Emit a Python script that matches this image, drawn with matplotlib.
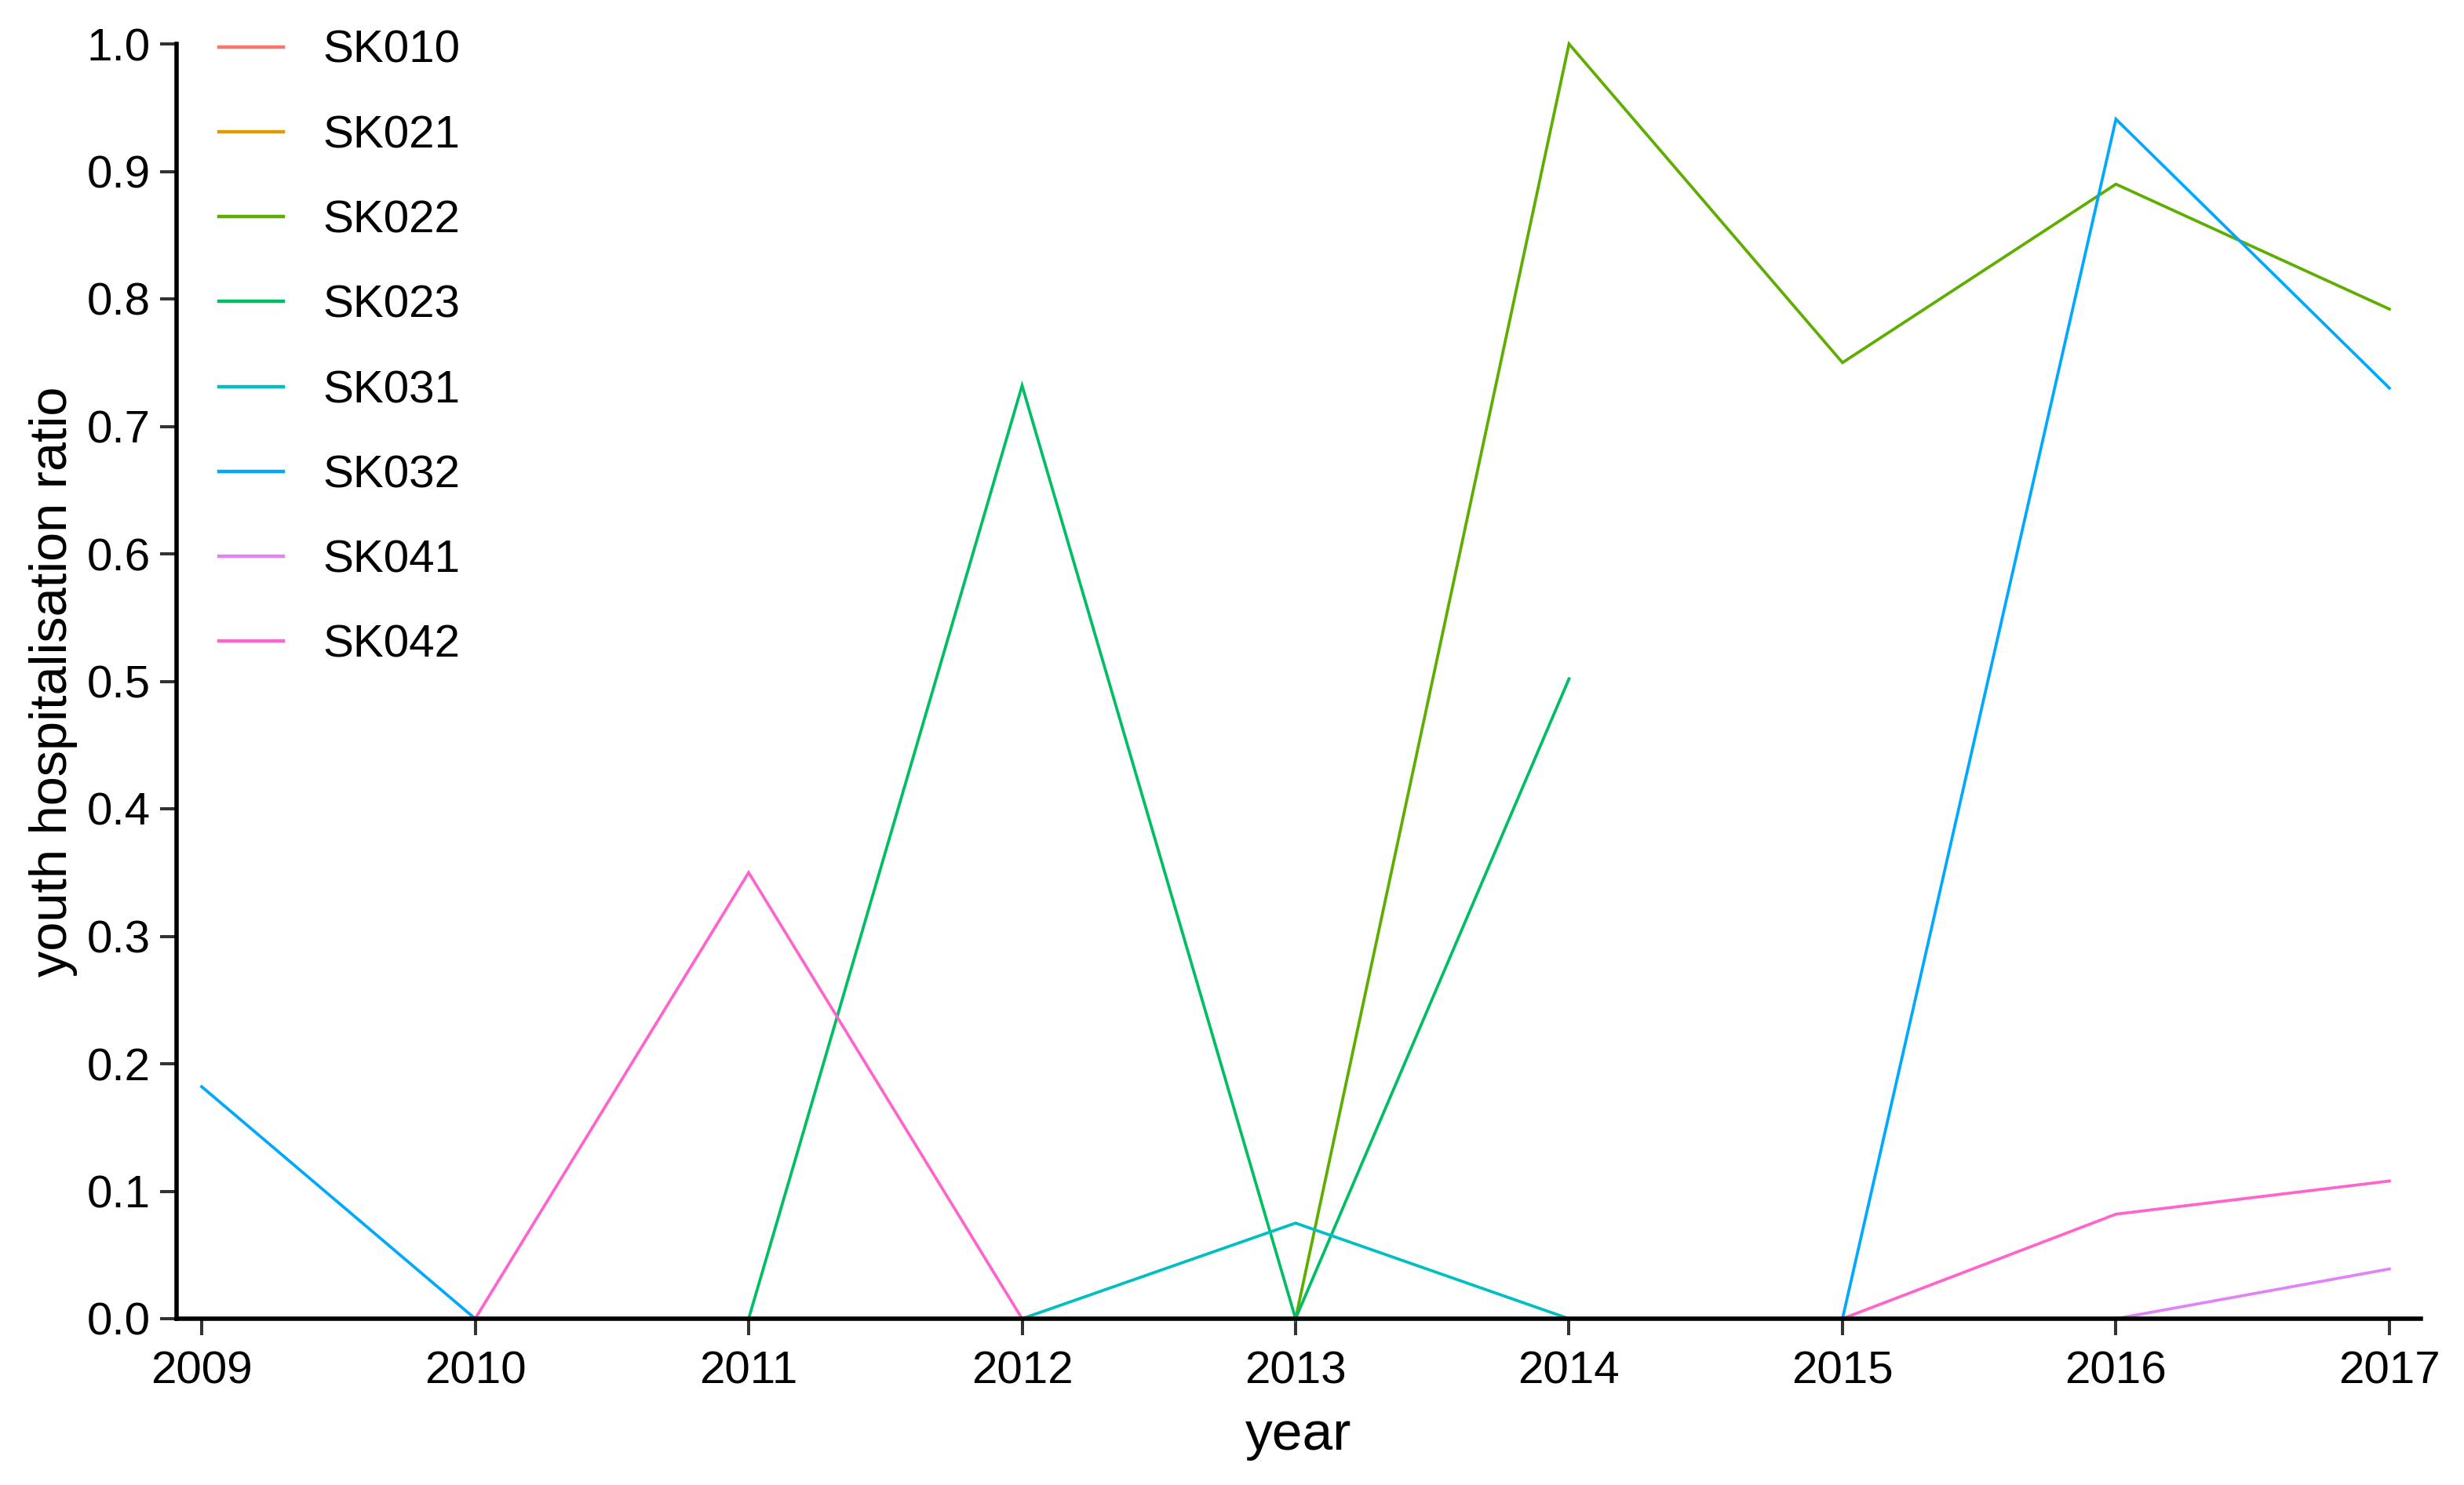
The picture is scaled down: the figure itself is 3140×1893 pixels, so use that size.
import numpy as np
import matplotlib
matplotlib.use("Agg")
import matplotlib.pyplot as plt

plt.rcParams['font.family'] = ['Liberation Sans', 'DejaVu Sans']

years = [2009, 2010, 2011, 2012, 2013, 2014, 2015, 2016, 2017]
regions = ["SK010", "SK021", "SK022", "SK023", "SK031", "SK032", "SK041", "SK042"]
nan = np.nan

sk010 = [nan, nan, nan, nan, nan, nan, nan, nan, nan]
sk021 = [nan, nan, nan, nan, nan, nan, nan, nan, nan]
sk022 = [nan, nan, nan, nan, 0.0, 1.0, 0.75, 0.89, 0.792]
sk023 = [nan, nan, 0.0, 0.732, 0.0, 0.502, nan, nan, nan]
sk031 = [nan, nan, nan, 0.0, 0.075, 0.0, nan, nan, nan]
sk032 = [0.182, 0.0, nan, nan, nan, nan, 0.0, 0.941, 0.730]
sk041 = [nan, nan, nan, nan, nan, nan, nan, 0.0, 0.039]
sk042 = [nan, 0.0, 0.350, 0.0, nan, nan, 0.0, 0.082, 0.108]

series = [sk010, sk021, sk022, sk023, sk031, sk032, sk041, sk042]
colors = ["#F8766D", "#DE9A00", "#5EAE00", "#00BE63", "#00BFC4", "#00A9FF", "#E083F5", "#FF63CC"]

yticks = [0.0, 0.1, 0.2, 0.3, 0.4, 0.5, 0.6, 0.7, 0.8, 0.9, 1.0]

W, H = 3140, 1893
dpi = 100
fig = plt.figure(figsize=(W / dpi, H / dpi), dpi=dpi)
left, right, top, bottom = 225, 3085, 56, 1681
ax = fig.add_axes([left / W, 1 - bottom / H, (right - left) / W, (bottom - top) / H])

handles = []
for name, vals, c in zip(regions, series, colors):
    ln, = ax.plot(years, vals, color=c, lw=2.7, label=name, solid_joinstyle='miter',
                  clip_on=False)
    handles.append(ln)

ax.set_xlim(2008.908, 2017.115)
ax.set_ylim(0, 1.0)
ax.set_xticks(years)
ax.set_xticklabels([str(y) for y in years])
ax.set_yticks(yticks)
ax.set_yticklabels([f"{v:.1f}" for v in yticks])

for s in ["top", "right"]:
    ax.spines[s].set_visible(False)
for s in ["left", "bottom"]:
    ax.spines[s].set_linewidth(4.0)
    ax.spines[s].set_color("black")
    ax.spines[s].set_capstyle('projecting')

ax.tick_params(axis='both', length=15, width=2.9, color="#333333", labelsize=42,
               labelcolor="black")
ax.tick_params(axis='x', pad=14)
ax.tick_params(axis='y', pad=9)

ax.set_xlabel("year", fontsize=50, labelpad=16)
ax.set_ylabel("youth hospitalisation ratio", fontsize=48, labelpad=8)

leg = ax.legend(handles=handles, loc='upper left',
                bbox_to_anchor=(279 / W, 1 - 38 / H), bbox_transform=fig.transFigure,
                frameon=False, fontsize=42, handlelength=1.41, handletextpad=0.86,
                labelspacing=0.93, borderpad=0, borderaxespad=0)
for l in leg.get_lines():
    l.set_linewidth(3.2)

fig.savefig("out.png", dpi=dpi)
